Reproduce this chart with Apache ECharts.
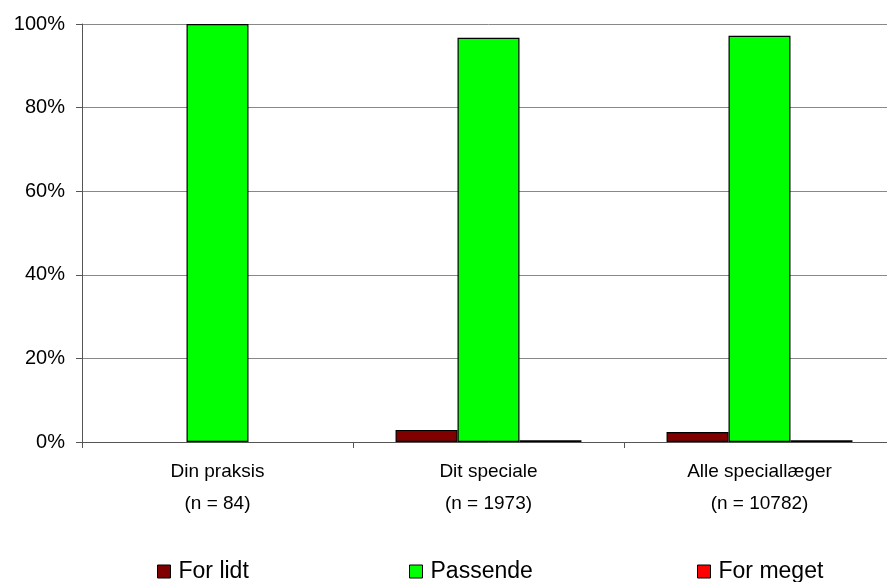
<!DOCTYPE html>
<html>
<head>
<meta charset="utf-8">
<script src="https://cdn.jsdelivr.net/npm/echarts@6/dist/echarts.min.js"></script>
<style>
html,body{margin:0;padding:0;background:#fff;overflow:hidden;width:887px;height:582px;}
#chart{width:900px;height:582px;}
</style>
</head>
<body>
<div id="chart"></div>
<script>
// Categories (two-line labels) and share of answers per group, in percent
const categories = ['Din praksis\n(n = 84)', 'Dit speciale\n(n = 1973)', 'Alle speciallæger\n(n = 10782)'];
const forLidt = [0, 2.9, 2.4];
const passende = [100, 96.7, 97.2];
const forMeget = [0, 0.4, 0.4];
const yTicks = [0, 20, 40, 60, 80, 100];

const seriesNames = ['For lidt', 'Passende', 'For meget'];
const seriesColors = ['#800000', '#00ff00', '#ff0000'];
const seriesData = [forLidt, passende, forMeget];

const chart = echarts.init(document.getElementById('chart'));
const font = 'Liberation Sans, Arial, sans-serif';
const legendLefts = [152, 404, 692];

// zero-height bars get no outline
const toItems = arr => arr.map(v => v === 0
  ? { value: v, itemStyle: { borderWidth: 0, opacity: 0 } }
  : v);

// the plot runs a little past the right edge of the visible page
chart.setOption({
  animation: false,
  backgroundColor: '#fff',
  grid: { left: 82, top: 24, width: 813, height: 418, containLabel: false },
  legend: seriesNames.map((n, i) => ({
    data: [n],
    left: legendLefts[i],
    top: 555,
    icon: 'rect',
    itemWidth: 13,
    itemHeight: 13,
    itemGap: 8,
    itemStyle: { borderColor: '#000', borderWidth: 1 },
    textStyle: { fontFamily: font, fontSize: 23, color: '#000', padding: [0, 0, 0, 3] }
  })),
  xAxis: {
    type: 'category',
    data: categories,
    axisLine: { lineStyle: { color: '#555', width: 1 } },
    axisTick: { show: true, length: 6, lineStyle: { color: '#555' } },
    axisLabel: { fontFamily: font, fontSize: 19, color: '#000', lineHeight: 32, margin: 14 }
  },
  yAxis: {
    type: 'value',
    min: 0,
    max: 100,
    interval: 20,
    axisLine: { show: true, lineStyle: { color: '#555', width: 1 } },
    axisTick: { show: true, length: 6, lineStyle: { color: '#555' } },
    axisLabel: {
      fontFamily: font, fontSize: 20, color: '#000', margin: 17,
      formatter: v => yTicks.includes(v) ? v + '%' : ''
    },
    splitLine: { show: true, lineStyle: { color: '#888', width: 1 } }
  },
  series: seriesNames.map((n, i) => ({
    name: n,
    type: 'bar',
    data: toItems(seriesData[i]),
    barGap: '0%',
    barCategoryGap: '31.4%',
    itemStyle: { color: seriesColors[i], borderColor: '#000', borderWidth: 1.2 }
  }))
});
</script>
</body>
</html>
